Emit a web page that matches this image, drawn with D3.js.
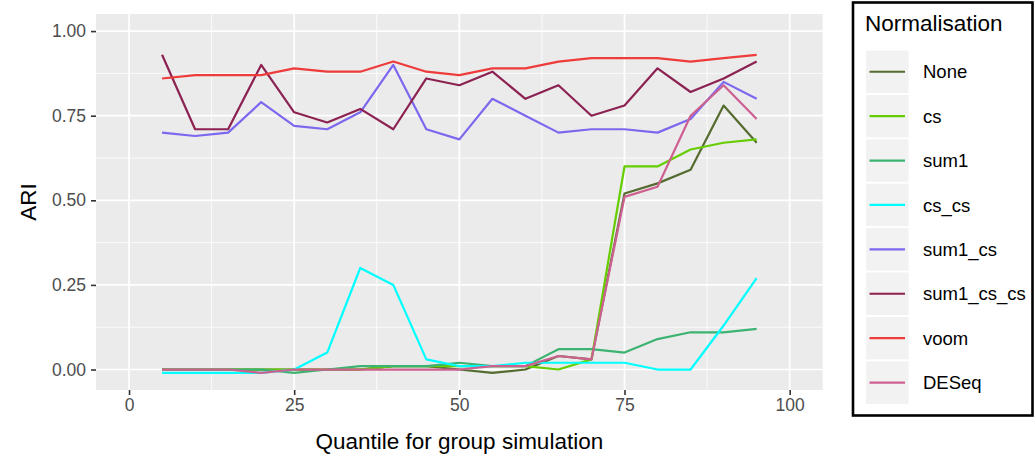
<!DOCTYPE html>
<html>
<head>
<meta charset="utf-8">
<script src="https://cdn.jsdelivr.net/npm/d3@7"></script>
<style>
  html, body { margin: 0; padding: 0; background: #ffffff; }
  svg { display: block; font-family: "Liberation Sans", Arial, Helvetica, sans-serif; }
</style>
</head>
<body>
<svg id="chart" width="1035" height="461"></svg>
<script>
// Quantiles used for the group simulation
const quantiles = [5, 10, 15, 20, 25, 30, 35, 40, 45, 50, 55, 60, 65, 70, 75, 80, 85, 90, 95];

// ARI per normalisation method
const ariNone     = [0, 0, 0, 0, 0, 0, 0, 0.01, 0.01, 0, -0.01, 0, 0.04, 0.03, 0.52, 0.55, 0.59, 0.78, 0.67];
const ariCs       = [0, 0, 0, 0, 0, 0, 0, 0.01, 0.01, 0.01, 0.01, 0.01, 0, 0.03, 0.60, 0.60, 0.65, 0.67, 0.68];
const ariSum1     = [0, 0, 0, 0, -0.01, 0, 0.01, 0.01, 0.01, 0.02, 0.01, 0.01, 0.06, 0.06, 0.05, 0.09, 0.11, 0.11, 0.12];
const ariCsCs     = [-0.01, -0.01, -0.01, -0.01, 0, 0.05, 0.30, 0.25, 0.03, 0.01, 0.01, 0.02, 0.02, 0.02, 0.02, 0, 0, 0.13, 0.27];
const ariSum1Cs   = [0.70, 0.69, 0.70, 0.79, 0.72, 0.71, 0.76, 0.90, 0.71, 0.68, 0.80, 0.75, 0.70, 0.71, 0.71, 0.70, 0.74, 0.85, 0.80];
const ariSum1CsCs = [0.93, 0.71, 0.71, 0.90, 0.76, 0.73, 0.77, 0.71, 0.86, 0.84, 0.88, 0.80, 0.84, 0.75, 0.78, 0.89, 0.82, 0.86, 0.91];
const ariVoom     = [0.86, 0.87, 0.87, 0.87, 0.89, 0.88, 0.88, 0.91, 0.88, 0.87, 0.89, 0.89, 0.91, 0.92, 0.92, 0.92, 0.91, 0.92, 0.93];
const ariDESeq    = [0, 0, 0, -0.01, 0, 0, 0, 0, 0, 0, 0.01, 0.01, 0.04, 0.03, 0.51, 0.54, 0.75, 0.84, 0.74];

const methodNames  = ["None", "cs", "sum1", "cs_cs", "sum1_cs", "sum1_cs_cs", "voom", "DESeq"];
const methodValues = [ariNone, ariCs, ariSum1, ariCsCs, ariSum1Cs, ariSum1CsCs, ariVoom, ariDESeq];
const methodColors = ["#556B2F", "#66CD00", "#3CB371", "#00FFFF", "#7B68EE", "#8B2252", "#EE3B3B", "#CD6090"];

const xTicks = [0, 25, 50, 75, 100];
const yTicks = [0, 0.25, 0.5, 0.75, 1];
const xMinor = [12.5, 37.5, 62.5, 87.5];
const yMinor = [0.125, 0.375, 0.625, 0.875];

const svg = d3.select("#chart");

// Panel geometry
const panel = { left: 96, right: 822.7, top: 14, bottom: 390 };

const x = d3.scaleLinear().domain([-5, 105]).range([panel.left, panel.right]);
const y = d3.scaleLinear().domain([-0.0605, 1.0505]).range([panel.bottom, panel.top]);

// Panel background
svg.append("rect")
  .attr("x", panel.left).attr("y", panel.top)
  .attr("width", panel.right - panel.left).attr("height", panel.bottom - panel.top)
  .attr("fill", "#EBEBEB");

const grid = svg.append("g");
grid.selectAll(".xminor").data(xMinor).enter().append("line")
  .attr("x1", d => x(d)).attr("x2", d => x(d))
  .attr("y1", panel.top).attr("y2", panel.bottom)
  .attr("stroke", "#fff").attr("stroke-width", 0.8);
grid.selectAll(".yminor").data(yMinor).enter().append("line")
  .attr("y1", d => y(d)).attr("y2", d => y(d))
  .attr("x1", panel.left).attr("x2", panel.right)
  .attr("stroke", "#fff").attr("stroke-width", 0.8);
grid.selectAll(".xmajor").data(xTicks).enter().append("line")
  .attr("x1", d => x(d)).attr("x2", d => x(d))
  .attr("y1", panel.top).attr("y2", panel.bottom)
  .attr("stroke", "#fff").attr("stroke-width", 1.7);
grid.selectAll(".ymajor").data(yTicks).enter().append("line")
  .attr("y1", d => y(d)).attr("y2", d => y(d))
  .attr("x1", panel.left).attr("x2", panel.right)
  .attr("stroke", "#fff").attr("stroke-width", 1.7);

// Axes
const xAxis = d3.axisBottom(x).tickValues(xTicks).tickFormat(d3.format("d")).tickSize(5).tickPadding(4);
const yAxis = d3.axisLeft(y).tickValues(yTicks).tickFormat(d3.format(".2f")).tickSize(5).tickPadding(5);

const gx = svg.append("g").attr("transform", `translate(0,${panel.bottom})`).call(xAxis);
const gy = svg.append("g").attr("transform", `translate(${panel.left},0)`).call(yAxis);
[gx, gy].forEach(g => {
  g.select(".domain").remove();
  g.selectAll(".tick line").attr("stroke", "#333333").attr("stroke-width", 1.6);
  g.selectAll(".tick text").attr("fill", "#4D4D4D").style("font-size", "17.5px")
    .style("font-family", '"Liberation Sans", Arial, sans-serif');
});

// Series lines
const line = d3.line().x((d, i) => x(quantiles[i])).y(d => y(d));
svg.append("g").selectAll("path").data(methodValues).enter().append("path")
  .attr("d", d => line(d))
  .attr("fill", "none")
  .attr("stroke", (d, i) => methodColors[i])
  .attr("stroke-width", 2.2)
  .attr("stroke-linejoin", "round");

// Axis titles
svg.append("text")
  .attr("x", (panel.left + panel.right) / 2).attr("y", 449)
  .attr("text-anchor", "middle").attr("fill", "#000")
  .style("font-size", "22.5px")
  .text("Quantile for group simulation");
svg.append("text")
  .attr("transform", `translate(36,${(panel.top + panel.bottom) / 2}) rotate(-90)`)
  .attr("text-anchor", "middle").attr("fill", "#000")
  .style("font-size", "22.5px")
  .text("ARI");

// Legend
const legend = svg.append("g");
legend.append("rect")
  .attr("x", 853).attr("y", 2.5).attr("width", 179.5).attr("height", 413)
  .attr("fill", "#fff").attr("stroke", "#000").attr("stroke-width", 2.6);
legend.append("text")
  .attr("x", 865).attr("y", 31)
  .attr("fill", "#000").style("font-size", "22.5px")
  .text("Normalisation");

const keyTop = 50.5, keyStep = 44.4, keySize = 42.5;
const rows = legend.selectAll(".row").data(methodNames).enter().append("g")
  .attr("transform", (d, i) => `translate(866,${keyTop + i * keyStep})`);
rows.append("rect")
  .attr("width", keySize).attr("height", keySize)
  .attr("fill", "#F2F2F2");
rows.append("line")
  .attr("x1", 3.5).attr("x2", keySize - 3.5)
  .attr("y1", keySize / 2).attr("y2", keySize / 2)
  .attr("stroke", (d, i) => methodColors[i]).attr("stroke-width", 2.2);
rows.append("text")
  .attr("x", 57).attr("y", keySize / 2 + 6.6)
  .attr("fill", "#000").style("font-size", "18.5px")
  .text(d => d);
</script>
</body>
</html>
